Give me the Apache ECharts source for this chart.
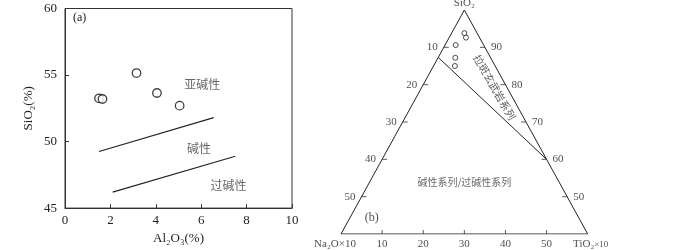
<!DOCTYPE html>
<html><head><meta charset="utf-8">
<script src="https://cdn.jsdelivr.net/npm/echarts@6/dist/echarts.min.js"></script>
<style>html,body{margin:0;padding:0;background:#fff}#c{width:700px;height:250px}</style>
</head><body><div id="c"></div>
<script>
// ---------- (a) Al2O3 vs SiO2 ----------
const aXTicks = [0, 2, 4, 6, 8, 10];
const aYTicks = [45, 50, 55, 60];
const aAl2O3 = [1.5, 1.65, 3.15, 4.05, 5.05];
const aSiO2 = [53.25, 53.2, 55.15, 53.65, 52.7];
const aBoundary1 = [[1.5, 49.25], [6.55, 51.8]];
const aBoundary2 = [[2.1, 46.2], [7.5, 48.9]];
const aFieldNames = ['亚碱性', '碱性', '过碱性'];
const aFieldX = [6.05, 5.9, 7.2];
const aFieldY = [54.3, 49.5, 46.7];

// ---------- (b) ternary SiO2 – Na2O×10 – TiO2×10 (SiO2 40–100 sub-triangle) ----------
const bSiO2 = [93.8, 92.6, 90.6, 87.2, 85.0];
const bNa2O10 = [3.1, 3.3, 6.8, 8.6, 9.8];
const bTiO210 = [3.1, 4.1, 2.6, 4.2, 5.2];
const bDivider = [[87.3, 12.7, 0], [60, 0, 40]]; // [SiO2, Na2O×10, TiO2×10]
const bLeftTicks = [10, 20, 30, 40, 50];   // Na2O×10 along left edge
const bRightTicks = [90, 80, 70, 60, 50];  // SiO2 along right edge
const bBottomTicks = [10, 20, 30, 40, 50]; // TiO2×10 along bottom edge
const bFieldNames = ['碱性系列/过碱性系列', '拉斑玄武岩系列'];
const bFieldPos = [[54, 23, 23], [79.3, 3.0, 17.7]];
const bVertexNames = ['SiO₂', 'Na₂O×10', '{m|TiO₂}{s|×10}'];
const SI_MIN = 40, SPAN = 100 - SI_MIN;

function tern(S, N, T) {
  const n = N / SPAN, t = T / SPAN;
  return [0.5 + 0.5 * (t - n), 1 - (t + n)];
}

const serif = "'Liberation Serif','Times New Roman',serif";
const cjk = "'Noto Sans CJK SC',sans-serif";
const ink = '#222';

const tri = [tern(SI_MIN, SPAN, 0), tern(SI_MIN, 0, SPAN), tern(100, 0, 0), tern(SI_MIN, SPAN, 0)];

const option = {
  animation: false,
  backgroundColor: '#fff',
  grid: [
    { left: 65, top: 8.5, width: 227, height: 206.5, show: true, borderColor: '#333', borderWidth: 1, backgroundColor: 'transparent' },
    { left: 341, top: 10, width: 246.7, height: 224 }
  ],
  xAxis: [
    { gridIndex: 0, type: 'value', min: aXTicks[0], max: aXTicks[aXTicks.length - 1], interval: 2,
      name: 'Al₂O₃(%)', nameLocation: 'middle', nameGap: 19,
      nameTextStyle: { fontFamily: serif, fontSize: 13, color: ink },
      axisLine: { lineStyle: { color: '#333', width: 1 } },
      axisTick: { inside: true, length: 4, lineStyle: { color: '#333' } },
      axisLabel: { margin: 6, fontFamily: serif, fontSize: 13, color: ink },
      splitLine: { show: false } },
    { gridIndex: 1, type: 'value', min: 0, max: 1, show: false }
  ],
  yAxis: [
    { gridIndex: 0, type: 'value', min: aYTicks[0], max: aYTicks[aYTicks.length - 1], interval: 5,
      name: 'SiO₂(%)', nameLocation: 'middle', nameGap: 30,
      nameTextStyle: { fontFamily: serif, fontSize: 13, color: ink },
      axisLine: { lineStyle: { color: '#333', width: 1 } },
      axisTick: { inside: true, length: 4, lineStyle: { color: '#333' } },
      axisLabel: { margin: 8, fontFamily: serif, fontSize: 13, color: ink },
      splitLine: { show: false } },
    { gridIndex: 1, type: 'value', min: 0, max: 1, show: false }
  ],
  graphic: [
    { type: 'text', left: 73, top: 12, style: { text: '(a)', font: "12px 'Liberation Serif',serif", fill: ink } }
  ],
  series: [
    // ---- (a) ----
    { type: 'line', xAxisIndex: 0, yAxisIndex: 0, data: aBoundary1, symbol: 'none', lineStyle: { color: ink, width: 1.1 } },
    { type: 'line', xAxisIndex: 0, yAxisIndex: 0, data: aBoundary2, symbol: 'none', lineStyle: { color: ink, width: 1.1 } },
    { type: 'scatter', xAxisIndex: 0, yAxisIndex: 0, symbol: 'circle', symbolSize: 8.5,
      itemStyle: { color: '#fff', borderColor: '#111', borderWidth: 1.3 },
      data: aAl2O3.map((x, i) => [x, aSiO2[i]]) },
    { type: 'scatter', xAxisIndex: 0, yAxisIndex: 0, symbolSize: 0, silent: true,
      data: aFieldNames.map((s, i) => ({ value: [aFieldX[i], aFieldY[i]], label: { formatter: s } })),
      label: { show: true, position: 'inside', fontFamily: cjk, fontSize: 12, color: '#444' } },

    // ---- (b) ----
    { type: 'line', xAxisIndex: 1, yAxisIndex: 1, data: tri, symbol: 'none', lineStyle: { color: ink, width: 1 } },
    { type: 'line', xAxisIndex: 1, yAxisIndex: 1, data: bDivider.map(p => tern(p[0], p[1], p[2])), symbol: 'none', lineStyle: { color: ink, width: 1 } },
    { type: 'scatter', xAxisIndex: 1, yAxisIndex: 1, symbol: 'circle', symbolSize: 5,
      itemStyle: { color: '#fff', borderColor: '#222', borderWidth: 1 },
      data: bSiO2.map((s, i) => tern(s, bNa2O10[i], bTiO210[i])) },
    // left-edge ticks + labels
    { type: 'scatter', xAxisIndex: 1, yAxisIndex: 1, symbol: 'rect', symbolSize: [5, 1], symbolOffset: [2.5, 0],
      itemStyle: { color: '#333' }, data: bLeftTicks.map(v => tern(100 - v, v, 0)) },
    { type: 'scatter', xAxisIndex: 1, yAxisIndex: 1, symbolSize: 0,
      data: bLeftTicks.map(v => ({ value: tern(100 - v, v, 0), label: { formatter: String(v) } })),
      label: { show: true, position: 'left', distance: 6, fontFamily: serif, fontSize: 11, color: ink } },
    // right-edge ticks + labels
    { type: 'scatter', xAxisIndex: 1, yAxisIndex: 1, symbol: 'rect', symbolSize: [5, 1], symbolOffset: [-2.5, 0],
      itemStyle: { color: '#333' }, data: bRightTicks.map(v => tern(v, 0, 100 - v)) },
    { type: 'scatter', xAxisIndex: 1, yAxisIndex: 1, symbolSize: 0,
      data: bRightTicks.map(v => ({ value: tern(v, 0, 100 - v), label: { formatter: String(v) } })),
      label: { show: true, position: 'right', distance: 6, fontFamily: serif, fontSize: 11, color: ink } },
    // bottom-edge ticks + labels
    { type: 'scatter', xAxisIndex: 1, yAxisIndex: 1, symbol: 'rect', symbolSize: [1, 4], symbolOffset: [0, -2],
      itemStyle: { color: '#333' }, data: bBottomTicks.map(v => tern(SI_MIN, SPAN - v, v)) },
    { type: 'scatter', xAxisIndex: 1, yAxisIndex: 1, symbolSize: 0,
      data: bBottomTicks.map(v => ({ value: tern(SI_MIN, SPAN - v, v), label: { formatter: String(v) } })),
      label: { show: true, position: 'bottom', distance: 5, fontFamily: serif, fontSize: 11, color: ink } },
    // vertex labels
    { type: 'scatter', xAxisIndex: 1, yAxisIndex: 1, symbolSize: 0,
      data: [
        { value: tern(100, 0, 0), label: { formatter: bVertexNames[0], position: 'top', distance: 1 } },
        { value: tern(SI_MIN, SPAN, 0), label: { formatter: bVertexNames[1], position: 'bottom', distance: 5, offset: [-6, 0] } },
        { value: tern(SI_MIN, 0, SPAN), label: { formatter: bVertexNames[2], position: 'bottom', distance: 5, offset: [3, 0] } }
      ],
      label: { show: true, fontFamily: serif, fontSize: 11, color: ink,
        rich: { m: { fontFamily: serif, fontSize: 11, color: ink }, s: { fontFamily: serif, fontSize: 9, color: ink } } } },
    // field labels
    { type: 'scatter', xAxisIndex: 1, yAxisIndex: 1, symbolSize: 0,
      data: [
        { value: tern(...bFieldPos[0]), label: { formatter: bFieldNames[0] } },
        { value: tern(...bFieldPos[1]), label: { formatter: bFieldNames[1], rotate: -60, fontSize: 10.5, color: '#333' } }
      ],
      label: { show: true, position: 'inside', fontFamily: cjk, fontSize: 10, color: '#444' } },
    // panel label (b)
    { type: 'scatter', xAxisIndex: 1, yAxisIndex: 1, symbolSize: 0,
      data: [{ value: tern(44.2, 50.4, 5.4), label: { formatter: '(b)' } }],
      label: { show: true, position: 'inside', fontFamily: serif, fontSize: 12, color: ink } }
  ]
};

const chart = echarts.init(document.getElementById('c'), null, { renderer: 'canvas' });
chart.setOption(option);
</script>
</body></html>
